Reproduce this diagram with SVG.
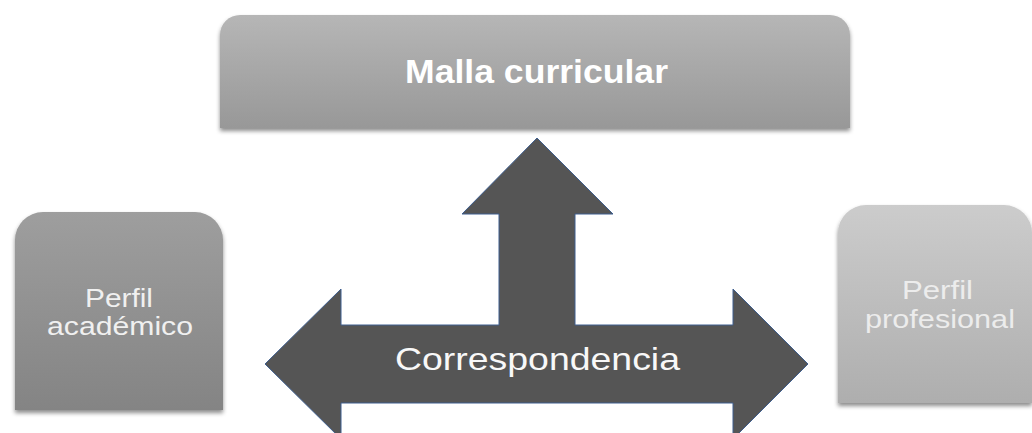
<svg xmlns="http://www.w3.org/2000/svg" width="1032" height="433" viewBox="0 0 1032 433">
  <defs>
    <linearGradient id="gTop" x1="0" y1="0" x2="0" y2="1">
      <stop offset="0" stop-color="#b6b6b6"/>
      <stop offset="1" stop-color="#989898"/>
    </linearGradient>
    <linearGradient id="gLeft" x1="0" y1="0" x2="0" y2="1">
      <stop offset="0" stop-color="#9e9e9e"/>
      <stop offset="1" stop-color="#848484"/>
    </linearGradient>
    <linearGradient id="gRight" x1="0" y1="0" x2="0" y2="1">
      <stop offset="0" stop-color="#cccccc"/>
      <stop offset="1" stop-color="#aeaeae"/>
    </linearGradient>
    <filter id="shadow" x="-10%" y="-10%" width="120%" height="130%">
      <feDropShadow dx="0" dy="3" stdDeviation="2" flood-color="#000" flood-opacity="0.45"/>
    </filter>
  </defs>
  <style>
    .t { font-family: "Liberation Sans", Arial, sans-serif; text-anchor: middle; }
    .title { font-size: 33px; font-weight: bold; fill: #ffffff; }
    .side { font-size: 25px; }
    .arrow { fill: #555555; stroke: #3f5f8f; stroke-width: 1; }
    .corr { font-size: 32px; fill: #f8f8f8; }
  </style>

  <g id="connectors">
    <path class="arrow" d="M537,138 L613,214 L575,214 L575,325 L733,325 L733,289 L808,364 L733,439 L733,403 L341,403 L341,439 L265,364 L341,289 L341,325 L499,325 L499,214 L462,214 Z"/>
    <text class="t corr" x="537.5" y="370" textLength="285" lengthAdjust="spacingAndGlyphs">Correspondencia</text>
  </g>

  <g id="malla">
    <path d="M220,128 V35 A20,20 0 0 1 240,15 H830 A20,20 0 0 1 850,35 V128 Z" fill="url(#gTop)" filter="url(#shadow)"/>
    <text class="t title" x="536.5" y="83" textLength="263" lengthAdjust="spacingAndGlyphs">Malla curricular</text>
  </g>

  <g id="perfil-academico">
    <path d="M15,410 V240 A28,28 0 0 1 43,212 H195 A28,28 0 0 1 223,240 V410 Z" fill="url(#gLeft)" filter="url(#shadow)"/>
    <text class="t side" fill="#f0f0f0" x="119" y="307" textLength="68" lengthAdjust="spacingAndGlyphs">Perfil</text>
    <text class="t side" fill="#f0f0f0" x="120" y="335" textLength="146" lengthAdjust="spacingAndGlyphs">académico</text>
  </g>

  <g id="perfil-profesional">
    <path d="M838,403 V233 A28,28 0 0 1 866,205 H1004 A28,28 0 0 1 1032,233 V403 Z" fill="url(#gRight)" filter="url(#shadow)"/>
    <text class="t side" fill="#ececec" x="937.5" y="299" textLength="71" lengthAdjust="spacingAndGlyphs">Perfil</text>
    <text class="t side" fill="#ececec" x="940" y="328" textLength="150" lengthAdjust="spacingAndGlyphs">profesional</text>
  </g>
</svg>
